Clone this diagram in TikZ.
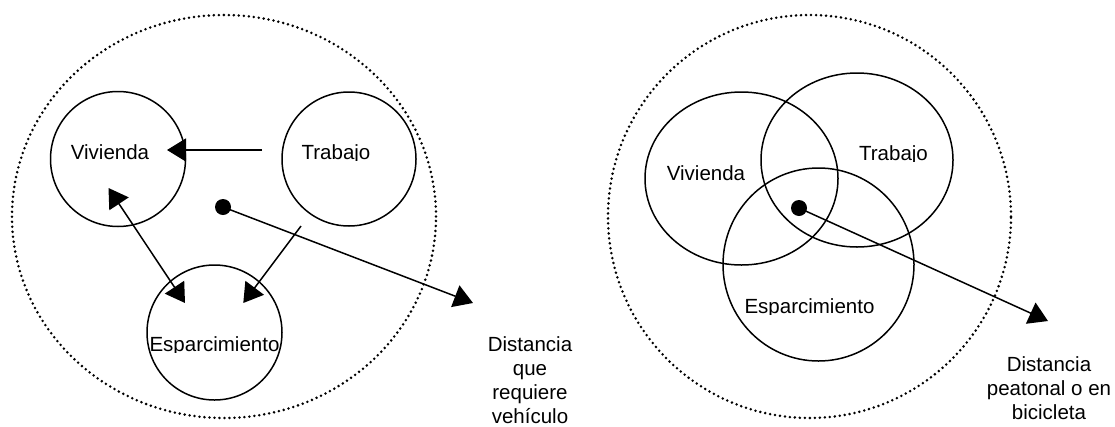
\documentclass[tikz,border=0pt]{standalone}
\usepackage{fontspec}
\setmainfont{Liberation Sans}
\usetikzlibrary{arrows.meta,shapes.geometric}
\begin{document}
\begin{tikzpicture}[x=1pt,y=-1pt,
  every node/.style={font=\fontsize{20.5}{24}\selectfont},
  area/.style={draw, ellipse, line width=1.5pt, inner sep=0pt},
  zone/.style={draw, ellipse, line width=2.8pt, inner sep=0pt,
    dash pattern=on 0pt off 5pt, line cap=round},
  lbl/.style={inner sep=0pt, anchor=base},
  dist/.style={inner sep=0pt, anchor=north, align=center},
  spot/.style={circle, fill=black, inner sep=0pt, minimum size=16pt},
  arr/.style={line width=1.5pt, -{Triangle[length=19pt,width=23pt]}},
  darr/.style={line width=1.5pt, {Triangle[length=19pt,width=23pt]}-{Triangle[length=19pt,width=23pt]}}
]
\useasboundingbox (0,0) rectangle (1115,426);

% ---------------- left panel ----------------
\node[zone, minimum width=424pt, minimum height=403pt] (zoneL) at (224,216.5) {};
\node[area, minimum width=135pt, minimum height=135pt] (vivL) at (118,159) {};
\node[area, minimum width=134pt, minimum height=134pt] (trabL) at (349,159) {};
\node[area, minimum width=135pt, minimum height=135pt] (espL) at (214.5,332.5) {};
\node[lbl] (vivLt) at (110,159) {Vivienda};
\begin{scope}
  \clip (280,120) rectangle (420,160.5);
  \node[lbl] (trabLt) at (336,159) {Trabajo};
\end{scope}
\begin{scope}
  \clip (120,320) rectangle (310,352.5);
  \node[lbl] (espLt) at (214.5,351.3) {Esparcimiento};
\end{scope}
\node[spot] (dotL) at (223,207) {};
\node[dist] (distL) at (530,336.5) {Distancia\\que\\requiere\\vehículo};

\coordinate (tvS) at (262,150);
\coordinate (tvE) at (167,150);
\coordinate (veA) at (108.5,188);
\coordinate (veB) at (185,303);
\coordinate (teS) at (301,226);
\coordinate (teE) at (243.3,303);
\coordinate (tipL) at (473,303);
\draw[arr] (tvS) -- (tvE);
\draw[darr] (veA) -- (veB);
\draw[arr] (teS) -- (teE);
\draw[arr] (dotL.center) -- (tipL);

% ---------------- right panel ----------------
\node[zone, minimum width=403pt, minimum height=403pt] (zoneR) at (809.5,216.5) {};
\node[area, minimum width=193pt, minimum height=173pt] (vivR) at (741.5,178.5) {};
\node[area, minimum width=192pt, minimum height=174pt] (trabR) at (857,160) {};
\node[area, minimum width=191pt, minimum height=193pt] (espR) at (818.5,264.5) {};
\node[lbl] (vivRt) at (706,180) {Vivienda};
\begin{scope}
  \clip (840,120) rectangle (960,161.5);
  \node[lbl] (trabRt) at (893.5,160) {Trabajo};
\end{scope}
\begin{scope}
  \clip (720,280) rectangle (900,314.5);
  \node[lbl] (espRt) at (809.5,313) {Esparcimiento};
\end{scope}
\node[spot] (dotR) at (799,208) {};
\node[dist] (distR) at (1049,356.5) {Distancia\\peatonal o en\\bicicleta};

\coordinate (tipR) at (1048,321);
\draw[arr] (dotR.center) -- (tipR);
\end{tikzpicture}
\end{document}
